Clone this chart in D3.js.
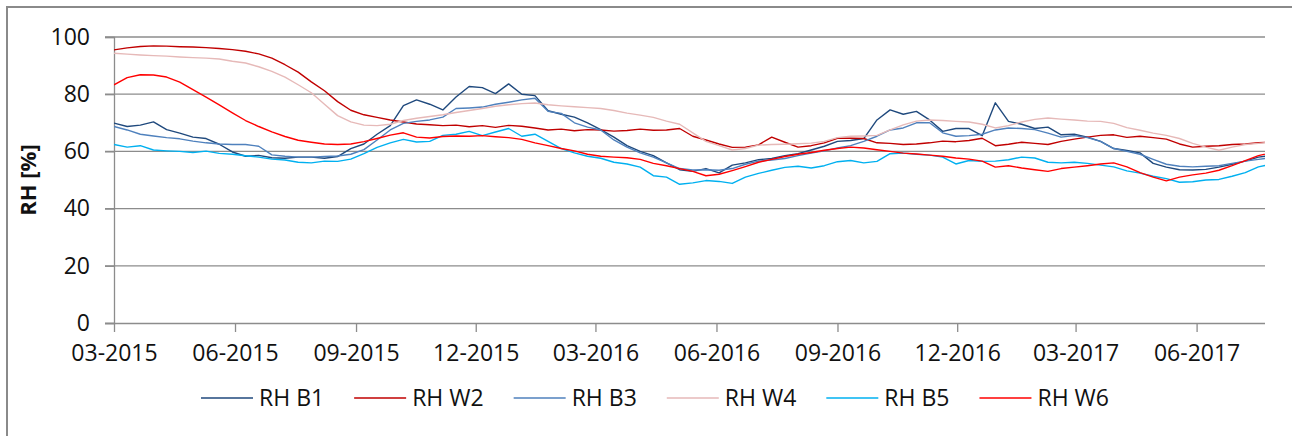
<!DOCTYPE html>
<html>
<head>
<meta charset="utf-8">
<script src="https://cdn.jsdelivr.net/npm/d3@7"></script>
<style>
  html, body { margin: 0; padding: 0; background: #fff; }
  svg text { font-family: "Open Sans", "Noto Sans", sans-serif; fill: #111; }
</style>
</head>
<body>
<div id="chart"></div>
<script>
// readings every 10 days starting 2015-03-01
const startDate = '2015-03-01';
const stepDays = 10;

const seriesNames = ['RH B1', 'RH W2', 'RH B3', 'RH W4', 'RH B5', 'RH W6'];

const rhB1 = [69.9, 68.7, 69.2, 70.3, 67.6, 66.4, 65.0, 64.5, 62.5, 59.8, 58.3, 58.6, 57.8, 57.6, 58.0, 58.0, 57.6, 58.2, 61.0, 62.6,
  66.0, 69.0, 76.0, 78.0, 76.5, 74.5, 79.0, 82.7, 82.3, 80.2, 83.6, 80.0, 79.5, 74.2, 73.0, 72.0, 70.0, 67.6, 65.0, 62.0,
  60.0, 58.5, 56.0, 53.6, 53.0, 54.0, 52.5, 55.2, 56.0, 57.1, 57.5, 58.5, 59.2, 60.5, 61.8, 63.5, 63.8, 64.5, 71.0, 74.5,
  73.0, 74.0, 71.0, 67.0, 68.0, 68.0, 65.5, 77.0, 70.5, 69.5, 68.0, 68.5, 65.8, 66.0, 65.0, 63.5, 61.0, 60.3, 59.5, 55.8,
  54.5, 53.6, 53.5, 53.7, 54.5, 55.5, 56.6, 58.0, 58.6];

const rhW2 = [95.5, 96.2, 96.7, 96.9, 96.8, 96.6, 96.5, 96.3, 96.0, 95.6, 95.0, 94.1, 92.6, 90.3, 87.7, 84.3, 81.2, 77.4, 74.4, 72.8,
  71.9, 71.0, 70.3, 69.6, 69.3, 69.0, 69.2, 68.6, 69.0, 68.4, 69.1, 68.8, 68.2, 67.5, 67.8, 67.2, 67.6, 67.5, 67.1, 67.3,
  67.8, 67.4, 67.5, 68.0, 65.3, 64.0, 62.6, 61.4, 61.5, 62.3, 65.0, 63.2, 61.5, 62.0, 63.0, 64.6, 64.6, 64.5, 63.0, 62.8,
  62.4, 62.6, 63.0, 63.6, 63.4, 63.8, 64.6, 62.0, 62.5, 63.2, 62.8, 62.4, 63.5, 64.3, 65.0, 65.6, 65.8, 64.9, 65.3, 64.8,
  64.3, 62.6, 61.5, 61.8, 62.0, 62.4, 62.6, 63.0, 63.3];

const rhB3 = [68.7, 67.5, 66.0, 65.4, 64.8, 64.4, 63.6, 63.0, 62.6, 62.4, 62.4, 61.8, 58.8, 58.3, 58.0, 58.0, 58.2, 58.4, 59.0, 60.6,
  64.0, 67.5, 69.8, 70.5, 71.0, 72.0, 75.0, 75.2, 75.5, 76.5, 77.2, 78.0, 78.6, 74.0, 73.3, 70.0, 68.5, 67.5, 64.0, 61.5,
  59.5, 58.0, 56.0, 54.0, 53.5, 53.6, 53.4, 54.0, 55.5, 56.6, 57.0, 57.5, 58.5, 59.4, 60.2, 61.2, 62.0, 63.5, 65.3, 67.5,
  68.2, 70.0, 70.0, 66.5, 65.3, 65.5, 66.0, 67.5, 68.2, 68.0, 67.6, 66.4, 65.0, 65.5, 64.8, 63.5, 61.0, 60.0, 59.0, 57.2,
  55.5, 54.8, 54.6, 54.8, 55.0, 55.8, 56.6, 57.2, 57.8];

const rhW4 = [94.3, 94.0, 93.7, 93.5, 93.3, 93.0, 92.8, 92.6, 92.3, 91.5, 90.9, 89.6, 88.0, 86.0, 83.3, 80.5, 76.5, 72.5, 70.3, 69.2,
  69.0, 69.5, 70.8, 71.6, 72.2, 72.8, 73.6, 74.3, 75.0, 75.8, 76.3, 76.7, 76.9, 76.3, 75.9, 75.6, 75.3, 75.0, 74.3, 73.4,
  72.7, 71.9, 70.6, 69.5, 66.5, 63.5, 62.0, 60.5, 61.0, 62.2, 62.4, 62.5, 62.7, 62.9, 63.5, 64.8, 65.3, 65.4, 65.6, 67.5,
  69.3, 70.6, 71.0, 70.8, 70.5, 70.3, 69.5, 68.2, 69.0, 70.3, 71.2, 71.7, 71.3, 71.0, 70.6, 70.5, 69.8, 68.3, 67.4, 66.4,
  65.6, 64.5, 62.8, 61.5, 60.4, 61.5, 62.4, 62.8, 63.2];

const rhB5 = [62.4, 61.5, 62.0, 60.5, 60.2, 60.0, 59.6, 60.1, 59.3, 59.0, 58.5, 58.0, 57.3, 57.0, 56.2, 56.0, 56.6, 56.5, 57.3, 59.2,
  61.4, 63.0, 64.2, 63.3, 63.5, 65.6, 66.0, 67.0, 65.5, 66.8, 68.0, 65.3, 66.0, 63.5, 61.0, 59.5, 58.3, 57.6, 56.2, 55.6,
  54.5, 51.5, 51.0, 48.5, 49.0, 49.8, 49.5, 48.8, 51.0, 52.3, 53.4, 54.4, 54.8, 54.2, 55.0, 56.4, 56.8, 56.0, 56.5, 59.2,
  59.4, 59.0, 58.7, 58.0, 55.6, 56.8, 56.5, 56.6, 57.1, 58.0, 57.7, 56.2, 56.0, 56.2, 55.8, 55.2, 54.6, 53.2, 52.4, 51.3,
  50.5, 49.2, 49.4, 50.0, 50.2, 51.3, 52.6, 54.6, 55.6];

const rhW6 = [83.3, 85.8, 86.8, 86.7, 86.0, 84.2, 81.6, 79.0, 76.3, 73.5, 70.8, 68.7, 66.8, 65.2, 63.9, 63.2, 62.6, 62.4, 62.6, 63.4,
  64.5, 65.7, 66.5, 65.0, 64.7, 65.2, 65.4, 65.3, 65.5, 65.1, 64.8, 64.2, 63.0, 62.0, 61.0, 60.2, 59.0, 58.3, 58.0, 57.8,
  57.2, 55.8, 55.0, 54.0, 53.0, 51.5, 52.0, 53.3, 54.7, 56.2, 57.2, 58.2, 59.0, 59.6, 60.4, 61.0, 61.5, 61.2, 60.6, 60.0,
  59.4, 59.1, 58.7, 58.3, 57.7, 57.3, 56.6, 54.5, 55.0, 54.2, 53.6, 53.0, 54.0, 54.5, 55.0, 55.6, 56.0, 54.6, 52.6, 51.0,
  49.7, 51.0, 51.8, 52.4, 53.4, 55.0, 56.8, 58.5, 59.6];

const seriesValues = [rhB1, rhW2, rhB3, rhW4, rhB5, rhW6];
const seriesColors = ['#1F497D', '#C00000', '#4F81BD', '#E6B9B8', '#00B0F0', '#FF0000'];

const xTicks = ['2015-03', '2015-06', '2015-09', '2015-12', '2016-03', '2016-06',
  '2016-09', '2016-12', '2017-03', '2017-06'];
const yTicks = [0, 20, 40, 60, 80, 100];

const width = 1292;
const height = 436;
const margin = { top: 37, right: 27, bottom: 113, left: 114 };

const parseDay = d3.timeParse('%Y-%m-%d');
const parseMonth = d3.timeParse('%Y-%m');
const t0 = parseDay(startDate);

const svg = d3.select('#chart')
  .append('svg')
  .attr('width', width)
  .attr('height', height);

// chart border (Excel chart area)
svg.append('rect')
  .attr('x', 7).attr('y', 7)
  .attr('width', 1400).attr('height', 1000)
  .attr('fill', 'none')
  .attr('stroke', '#8a8a8a')
  .attr('stroke-width', 2);

const xScale = d3.scaleTime()
  .domain([parseMonth('2015-03'), parseDay('2017-07-23')])
  .range([margin.left, width - margin.right]);

const yScale = d3.scaleLinear()
  .domain([0, 100])
  .range([height - margin.bottom, margin.top]);

// gridlines
svg.append('g')
  .selectAll('line')
  .data(yTicks.filter((d) => d > 0))
  .enter()
  .append('line')
  .attr('x1', margin.left - 9)
  .attr('x2', width - margin.right)
  .attr('y1', (d) => yScale(d))
  .attr('y2', (d) => yScale(d))
  .attr('stroke', '#8c8c8c')
  .attr('stroke-width', 1.3);

// y axis
const yAxis = svg.append('g')
  .attr('transform', `translate(${margin.left},0)`)
  .call(d3.axisLeft(yScale).tickValues(yTicks).tickSize(9).tickPadding(15).tickFormat(d3.format('d')));

// x axis
const xAxis = svg.append('g')
  .attr('transform', `translate(0,${yScale(0)})`)
  .call(d3.axisBottom(xScale)
    .tickValues(xTicks.map(parseMonth))
    .tickSize(9)
    .tickPadding(13)
    .tickFormat(d3.timeFormat('%m-%Y')));

xAxis.select('.domain').attr('d', `M${margin.left - 9},0.5H${width - margin.right}`);

[yAxis, xAxis].forEach((ax) => {
  ax.selectAll('.domain, .tick line').attr('stroke', '#8c8c8c').attr('stroke-width', 1.3);
  ax.selectAll('.tick text')
    .attr('font-size', '23px')
    .attr('font-family', '"Open Sans", sans-serif')
    .attr('fill', '#111');
});

// y title
svg.append('text')
  .attr('transform', `translate(36,${(yScale(0) + yScale(100)) / 2}) rotate(-90)`)
  .attr('text-anchor', 'middle')
  .attr('font-size', '22px')
  .attr('font-weight', 'bold')
  .text('RH [%]');

// clip plot area
svg.append('clipPath')
  .attr('id', 'plot-clip')
  .append('rect')
  .attr('x', margin.left)
  .attr('y', 0)
  .attr('width', width - margin.right - margin.left)
  .attr('height', height);

const line = d3.line()
  .x((d, i) => xScale(d3.timeDay.offset(t0, i * stepDays)))
  .y((d) => yScale(d));

svg.append('g')
  .attr('clip-path', 'url(#plot-clip)')
  .selectAll('path')
  .data(seriesValues)
  .enter()
  .append('path')
  .attr('d', line)
  .attr('fill', 'none')
  .attr('stroke', (_, i) => seriesColors[i])
  .attr('stroke-width', 1.4)
  .attr('stroke-linejoin', 'round');

// legend
const legend = svg.append('g').attr('transform', 'translate(0,398)');
let lx = 201;
seriesNames.forEach((name, i) => {
  legend.append('line')
    .attr('x1', lx).attr('x2', lx + 52)
    .attr('y1', 0).attr('y2', 0)
    .attr('stroke', seriesColors[i])
    .attr('stroke-width', 1.5);
  const txt = legend.append('text')
    .attr('x', lx + 58)
    .attr('y', 8)
    .attr('font-size', '23px')
    .text(name);
  lx += 58 + txt.node().getComputedTextLength() + 30;
});
</script>
</body>
</html>
